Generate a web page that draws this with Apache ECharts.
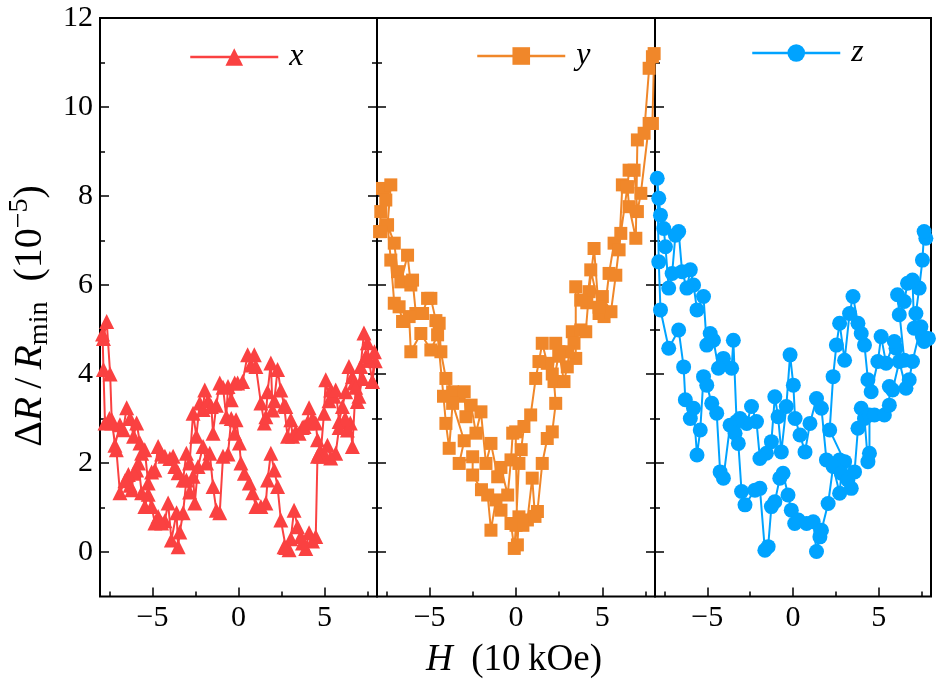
<!DOCTYPE html>
<html><head><meta charset="utf-8">
<script src="https://cdn.jsdelivr.net/npm/echarts@6/dist/echarts.min.js"></script>
<style>html,body{margin:0;padding:0;background:#fff}#c{width:949px;height:690px}</style>
</head><body><div id="c"></div>
<script>
// ---- data: [H (10 kOe), ΔR/R_min (1e-5)] ----
const panelNames = ['x', 'y', 'z'];
const xMajorTicks = [-5, 0, 5];
const xMinorTicks = [-7.5, -2.5, 2.5, 7.5];
const yMajorTicks = [0, 2, 4, 6, 8, 10, 12];
const yMinorTicks = [1, 3, 5, 7, 9, 11];

const dataX = [
[-7.85,4.8],[-7.66,5.18],[-7.46,4.0],[-7.37,2.98],[-7.18,2.4],[-6.89,2.86],[-6.7,2.75],[-6.5,3.24],[-6.3,3.0],[-6.1,2.6],[-5.92,2.9],[-5.73,2.45],[-5.63,2.22],[-5.45,2.3],[-5.25,1.55],[-5.05,1.8],[-4.86,1.84],[-4.67,2.37],[-4.47,2.2],[-4.28,2.15],[-3.99,2.1],[-3.8,2.15],[-3.7,1.92],[-3.51,1.78],[-3.22,1.62],[-3.03,2.22],[-2.84,2.0],[-2.64,3.12],[-2.45,2.6],[-2.25,3.35],[-2.06,3.2],[-1.96,3.64],[-1.77,3.4],[-1.58,3.27],[-1.48,2.67],[-1.29,3.3],[-1.09,3.8],[-0.9,3.7],[-0.71,3.04],[-0.61,3.72],[-0.42,3.42],[-0.22,3.8],[-0.05,3.8],[0.24,3.83],[0.53,4.43],[0.72,4.2],[0.92,4.43],[1.01,4.17],[1.3,3.35],[1.5,2.9],[1.59,3.04],[1.69,3.6],[1.88,4.25],[1.98,3.19],[2.08,3.4],[2.27,4.1],[2.46,3.64],[2.65,3.3],[2.75,3.27],[2.85,2.6],[3.04,2.97],[3.14,2.6],[3.33,2.7],[3.52,2.67],[3.71,2.8],[3.81,2.82],[4.0,2.9],[4.1,3.24],[4.3,3.0],[4.49,2.9],[4.59,2.52],[4.78,2.22],[4.97,3.12],[5.07,3.87],[5.26,3.4],[5.36,3.64],[5.55,3.5],[5.65,3.64],[5.85,2.93],[6.04,3.27],[6.23,3.6],[6.42,4.17],[6.62,3.94],[6.71,3.8],[6.91,3.38],[7.1,4.17],[7.29,4.92],[7.49,4.7],[7.58,4.31],[7.78,3.83],[7.9,4.5],
[7.95,4.3],[7.78,3.83],[7.58,4.31],[7.4,4.4],[7.2,3.9],[7.0,3.5],[6.81,3.7],[6.62,2.37],[6.5,2.9],[6.33,2.74],[6.2,3.0],[5.85,2.8],[5.65,2.22],[5.36,2.11],[5.17,2.4],[4.97,2.22],[4.78,2.15],[4.68,2.22],[4.59,2.15],[4.49,0.35],[4.3,0.25],[4.1,0.43],[3.91,0.08],[3.72,0.2],[3.62,0.35],[3.43,0.57],[3.23,0.94],[3.04,0.3],[2.94,0.05],[2.75,0.1],[2.65,0.12],[2.46,0.72],[2.27,1.47],[2.08,1.84],[1.88,2.22],[1.69,1.62],[1.59,1.1],[1.3,1.02],[1.01,1.02],[0.82,1.33],[0.63,1.55],[0.34,1.77],[0.14,2.0],[0.05,2.45],[-0.14,2.97],[-0.22,2.67],[-0.42,3.0],[-0.61,2.2],[-0.9,2.15],[-1.09,0.88],[-1.29,0.94],[-1.48,1.47],[-1.67,2.22],[-1.86,2.0],[-2.06,2.37],[-2.35,1.92],[-2.54,1.1],[-2.64,1.7],[-2.84,1.35],[-3.03,1.62],[-3.22,0.88],[-3.41,0.45],[-3.51,0.12],[-3.6,0.88],[-3.9,0.27],[-4.09,1.1],[-4.28,0.7],[-4.47,0.65],[-4.67,0.8],[-4.86,0.65],[-5.05,1.02],[-5.25,1.3],[-5.44,1.02],[-5.63,1.33],[-5.82,2.0],[-5.92,1.84],[-6.1,1.77],[-6.2,1.4],[-6.3,1.5],[-6.4,1.74],[-6.6,1.6],[-6.89,1.33],[-7.1,2.3],[-7.37,2.9],[-7.5,3.0],[-7.76,2.9],[-7.85,4.1],[-7.9,4.9]
];

const dataY = [
[-7.9,7.2],[-7.83,7.65],[-7.73,8.17],[-7.54,7.91],[-7.25,8.25],[-7.44,7.35],[-7.05,6.94],[-6.86,6.3],[-6.67,6.07],[-6.28,6.67],[-6.09,6.0],[-5.99,6.11],[-5.8,5.36],[-5.41,5.36],[-5.12,5.7],[-4.93,5.7],[-4.64,5.2],[-4.45,5.14],[-4.35,4.5],[-4.06,3.9],[-3.67,3.6],[-3.38,3.5],[-3.0,3.6],[-2.9,3.04],[-2.6,3.3],[-2.32,2.67],[-2.03,3.15],[-1.74,1.99],[-1.45,2.44],[-1.06,1.69],[-0.87,1.9],[-0.48,1.28],[-0.29,2.07],[-0.19,2.67],[-0.02,2.7],[0.08,0.16],[0.17,0.79],[0.4,0.6],[0.66,0.72],[0.94,1.66],[1.1,0.8],[1.24,0.91],[1.52,1.99],[1.81,2.55],[2.1,2.7],[2.3,3.34],[2.2,3.83],[2.49,4.5],[2.78,3.83],[2.97,4.16],[3.26,4.95],[3.36,4.69],[3.75,4.99],[4.04,4.95],[4.23,5.85],[4.52,6.82],[4.81,5.36],[5.1,5.29],[5.39,6.26],[5.68,6.94],[5.97,6.79],[6.16,8.25],[6.45,8.21],[6.55,7.76],[6.94,7.05],[7.03,9.26],[7.42,9.41],[7.71,10.87],[7.9,11.13],
[8.0,11.2],[7.9,9.63],[7.71,9.63],[7.23,8.06],[7.03,7.65],[6.84,8.58],[6.55,8.58],[6.45,8.2],[6.07,7.16],[5.78,6.22],[5.5,5.4],[5.0,5.74],[4.81,5.5],[4.33,6.34],[4.1,5.6],[3.75,5.66],[3.46,5.96],[3.46,4.35],[3.0,4.5],[2.49,4.4],[2.3,4.69],[2.1,4.0],[1.81,4.24],[1.52,4.69],[1.33,4.28],[1.14,3.9],[0.85,3.08],[0.46,2.82],[0.3,2.3],[0.17,1.99],[0.0,0.6],[-0.1,0.08],[-0.29,0.64],[-0.87,0.94],[-1.16,1.17],[-1.45,0.49],[-1.64,1.28],[-2.0,1.4],[-2.51,1.73],[-2.51,2.14],[-3.29,1.99],[-3.0,2.5],[-3.67,3.34],[-3.87,2.33],[-4.06,2.89],[-4.2,3.5],[-4.54,4.88],[-4.93,4.54],[-5.51,4.91],[-6.09,4.5],[-6.19,5.29],[-6.57,5.18],[-6.77,5.51],[-7.05,5.59],[-7.25,6.56],[-7.44,7.35],[-7.83,7.2]
];

const dataZ = [
[7.75,7.05],[7.65,7.2],[7.55,6.56],[7.36,5.93],[7.17,5.36],[7.07,5.03],[6.97,6.11],[6.68,6.04],[6.49,5.63],[6.2,5.33],[6.1,5.78],[6.49,4.31],[6.01,4.58],[5.91,4.73],[5.43,4.24],[5.14,4.84],[4.95,4.28],[4.56,3.6],[4.37,3.87],[4.17,4.65],[3.98,4.91],[3.79,5.14],[3.5,5.74],[3.3,5.36],[3.01,4.31],[2.72,5.14],[2.53,4.65],[2.34,3.94],[2.14,2.74],[3.01,2.03],[2.72,2.07],[1.95,2.07],[1.66,3.23],[1.37,3.45],[0.99,2.89],[0.7,2.25],[0.41,2.63],[0.12,3.0],[0.02,3.75],[-0.17,4.43],[-0.39,3.27],[-0.68,2.25],[-0.87,3.04],[-1.06,3.49],[-1.26,2.48],[-1.55,2.22],[-1.93,2.1],[-2.13,2.93],[-2.42,3.27],[-2.7,2.89],[-3.09,3.0],[-3.29,2.93],[-3.48,4.76],[-3.58,4.13],[-4.06,4.35],[-4.35,4.13],[-4.64,4.76],[-4.83,4.91],[-5.03,4.65],[-5.22,5.74],[-5.6,5.44],[-5.8,6.0],[-5.99,6.34],[-6.19,5.93],[-6.47,6.3],[-6.67,7.2],[-6.86,7.12],[-7.05,6.26],[-7.25,5.93],[-7.44,6.86],[-7.54,7.27],[-7.73,7.57],[-7.83,7.95],[-7.92,8.4],
[-7.83,6.52],[-7.73,5.44],[-7.25,4.58],[-6.67,4.99],[-6.38,4.16],[-6.28,3.42],[-5.99,3.0],[-5.8,3.23],[-5.6,2.18],[-5.41,2.74],[-5.22,3.94],[-5.03,3.75],[-4.74,3.34],[-4.45,3.12],[-4.25,1.8],[-4.06,1.66],[-3.67,2.85],[-3.38,2.67],[-3.19,2.44],[-3.0,1.36],[-2.8,1.06],[-2.22,1.39],[-1.93,1.43],[-1.64,0.04],[-1.45,0.12],[-1.26,1.02],[-1.06,1.13],[-0.77,1.66],[-0.58,1.77],[-0.29,1.28],[-0.1,0.94],[0.1,0.64],[0.31,0.72],[0.79,0.64],[1.18,0.68],[1.37,0.01],[1.57,0.34],[1.66,0.49],[2.05,1.09],[2.34,1.92],[2.72,1.32],[2.82,1.77],[3.2,1.62],[3.4,1.43],[3.59,1.8],[3.79,2.78],[3.98,3.23],[4.17,3.0],[4.37,2.03],[4.46,2.22],[4.46,3.08],[4.75,3.08],[5.33,3.08],[5.62,3.3],[5.62,3.72],[5.81,3.64],[6.2,4.28],[6.59,3.68],[6.78,3.87],[6.97,4.28],[7.46,5.06],[7.55,4.84],[7.65,4.73],[7.9,4.8]
];

// ---- layout / style ----
const FONT = '"Liberation Serif", "DejaVu Serif", serif';
const panels = [
  {data: dataX, color: '#fa4141', symbol: 'triangle', size: 15, left: 100, width: 277, legLeft: 189, legTop: 41, rightTicks: true},
  {data: dataY, color: '#f0872a', symbol: 'rect', size: 13, left: 377, width: 278, legLeft: 476, legTop: 40, rightTicks: true},
  {data: dataZ, color: '#00a3ff', symbol: 'circle', size: 15, left: 655, width: 276, legLeft: 751, legTop: 37, rightTicks: false}
];
const fmt = v => (v < 0 ? '\u2212' + Math.abs(v) : String(v));
const tickStyle = {color: '#000', width: 1.5};

const grids = [], xAxes = [], yAxes = [], series = [], legends = [];
panels.forEach((p, i) => {
  grids.push({left: p.left, top: 18, width: p.width, height: 578.5, show: true, borderColor: '#000', borderWidth: 2, backgroundColor: 'transparent'});
  const xi = xAxes.length;
  const xBase = {type: 'value', gridIndex: i, min: -8.05, max: 8.05, position: 'bottom', axisLine: {show: false, onZero: false}, splitLine: {show: false}};
  xAxes.push(Object.assign({}, xBase, {
    axisTick: {show: true, inside: true, length: 9, customValues: xMajorTicks, lineStyle: tickStyle},
    axisLabel: {show: true, customValues: xMajorTicks, formatter: fmt, fontSize: 30, fontFamily: FONT, color: '#000', margin: 7}
  }));
  xAxes.push(Object.assign({}, xBase, {
    axisTick: {show: true, inside: true, length: 5, customValues: xMinorTicks, lineStyle: tickStyle},
    axisLabel: {show: false}
  }));
  const yi = yAxes.length;
  const sides = p.rightTicks ? ['left', 'right'] : ['left'];
  sides.forEach(side => {
    const yBase = {type: 'value', gridIndex: i, min: -1, max: 12, position: side, axisLine: {show: false, onZero: false}, splitLine: {show: false}};
    yAxes.push(Object.assign({}, yBase, {
      axisTick: {show: true, inside: true, length: 9, customValues: yMajorTicks, lineStyle: tickStyle},
      axisLabel: {show: i === 0 && side === 'left', customValues: yMajorTicks, fontSize: 30, fontFamily: FONT, color: '#000', margin: 7}
    }));
    yAxes.push(Object.assign({}, yBase, {
      axisTick: {show: true, inside: true, length: 5, customValues: yMinorTicks, lineStyle: tickStyle},
      axisLabel: {show: false}
    }));
  });
  series.push({
    type: 'line', name: panelNames[i], xAxisIndex: xi, yAxisIndex: yi, data: p.data,
    symbol: p.symbol, symbolSize: p.size, showSymbol: true, clip: false,
    lineStyle: {width: 2, color: p.color}, itemStyle: {color: p.color}, z: 3
  });
  legends.push({
    data: [panelNames[i]], left: p.legLeft, top: p.legTop, padding: 0, itemWidth: 88, itemHeight: 22,
    lineStyle: {width: 2.5},
    textStyle: {fontSize: 32, fontStyle: 'italic', fontFamily: FONT, color: '#000', lineHeight: 22, padding: [0, 0, 0, 6]}
  });
});

const richBase = {fontFamily: FONT, fill: '#000'};
const chart = echarts.init(document.getElementById('c'));
chart.setOption({
  animation: false,
  backgroundColor: '#fff',
  grid: grids, xAxis: xAxes, yAxis: yAxes, series: series, legend: legends,
  graphic: [
    {type: 'text', x: 30, y: 316, rotation: Math.PI / 2, style: {
      text: '{i|\u0394}{i2|R}{d|\u2009/\u2009}{i2|R}{s|min}{d|  (10}{p|\u22125}{d|)}', align: 'center', verticalAlign: 'middle',
      rich: {
        i: Object.assign({fontSize: 40, lineHeight: 46}, richBase),
        i2: Object.assign({fontSize: 40, lineHeight: 46, fontStyle: 'italic'}, richBase),
        d: Object.assign({fontSize: 40, lineHeight: 46}, richBase),
        s: Object.assign({fontSize: 28, lineHeight: 24, padding: [20, 0, 0, 0]}, richBase),
        p: Object.assign({fontSize: 28, lineHeight: 24, padding: [0, 0, 20, 0]}, richBase)
      }}},
    {type: 'text', x: 514, y: 660, style: {
      text: '{i|H}{d|  (10\u2009kOe)}', align: 'center', verticalAlign: 'middle',
      rich: {
        i: Object.assign({fontSize: 37, lineHeight: 42, fontStyle: 'italic'}, richBase),
        d: Object.assign({fontSize: 37, lineHeight: 42}, richBase)
      }}}
  ]
});
</script></body></html>
